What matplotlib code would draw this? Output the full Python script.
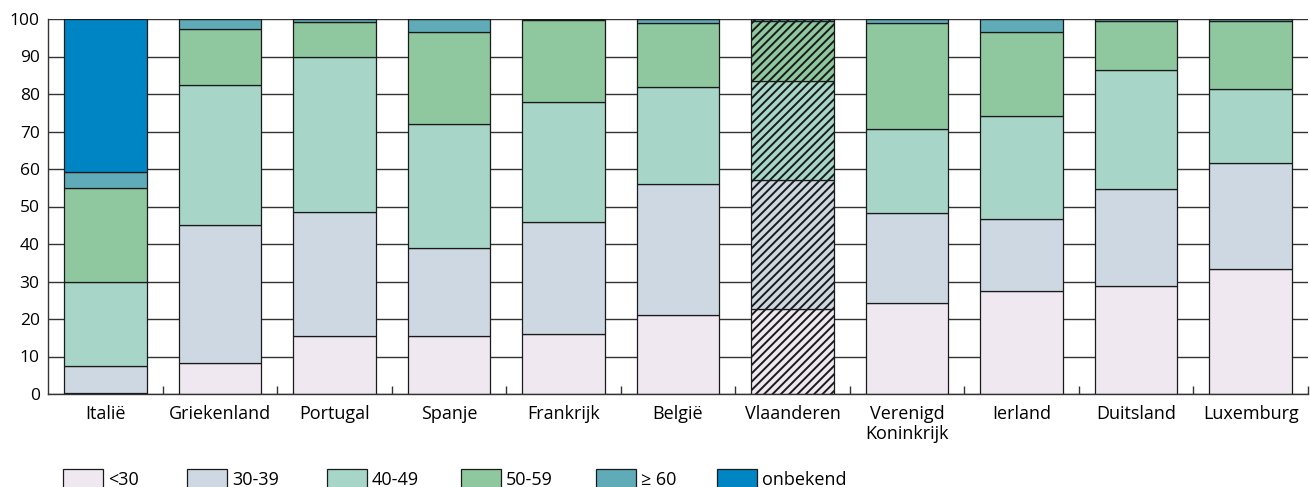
import numpy as np
import matplotlib.pyplot as plt
from matplotlib.patches import Rectangle

# Categories and stacked shares (percent)
landen = ['Italië', 'Griekenland', 'Portugal', 'Spanje', 'Frankrijk', 'België',
          'Vlaanderen', 'Verenigd\nKoninkrijk', 'Ierland', 'Duitsland', 'Luxemburg']
klassen = ['<30', '30-39', '40-49', '50-59', '≥ 60', 'onbekend']

onder30 = [0.3, 8.2, 15.5, 15.5, 16.0, 21.0, 22.8, 24.4, 27.6, 28.9, 33.3]
j30_39 = [7.2, 37.0, 33.0, 23.5, 30.0, 35.0, 34.2, 23.8, 19.0, 25.9, 28.4]
j40_49 = [22.5, 37.3, 41.5, 33.0, 32.0, 26.0, 26.5, 22.5, 27.6, 31.5, 19.6]
j50_59 = [25.0, 14.9, 9.3, 24.5, 21.7, 17.0, 16.1, 28.3, 22.4, 13.1, 18.3]
boven60 = [4.3, 2.6, 0.7, 3.5, 0.3, 1.0, 0.4, 1.0, 3.4, 0.6, 0.4]
onbekend = [40.7, 0, 0, 0, 0, 0, 0, 0, 0, 0, 0]

kleuren = ['#efe8f1', '#cdd8e2', '#a7d6c8', '#8fc79f', '#5fabb8', '#0085c4']

plt.rcParams['font.family'] = ['Open Sans', 'DejaVu Sans']
plt.rcParams['hatch.linewidth'] = 1.4

W, H = 1310, 487
fig = plt.figure(figsize=(W / 100, H / 100), dpi=100)
ax = fig.add_axes([48 / W, 1 - 394 / H, 1260 / W, 375 / H])

x = np.arange(len(landen))
reeksen = [onder30, j30_39, j40_49, j50_59, boven60, onbekend]
bottom = np.zeros(len(landen))
for waarden, kleur in zip(reeksen, kleuren):
    waarden = np.array(waarden)
    bars = ax.bar(x, waarden, 0.72, bottom=bottom, color=kleur,
                  edgecolor='#1a1a1a', linewidth=0.9, zorder=2)
    bars[6].set_hatch('////')
    bottom += waarden

ax.set_xlim(-0.5, len(landen) - 0.5)
ax.set_ylim(0, 100)
ax.set_yticks(range(0, 101, 10))
ax.grid(axis='y', color='#333333', linewidth=1.0, zorder=0)
ax.set_axisbelow(True)

ax.set_xticks(x)
ax.set_xticklabels(landen, fontsize=13, linespacing=1.1)
ax.set_xticks(np.arange(0.5, len(landen), 1), minor=True)
ax.tick_params(axis='x', which='major', length=0, pad=8)
ax.tick_params(axis='x', which='minor', direction='in', length=6, width=1, color='#333333')
ax.tick_params(axis='y', length=0, labelsize=12.5, pad=6)

for s in ['top', 'right']:
    ax.spines[s].set_visible(False)
for s in ['left', 'bottom']:
    ax.spines[s].set_color('#333333')
    ax.spines[s].set_linewidth(1.0)

# legend along the bottom edge, drawn by hand to keep the spacing of the original
leg_x = [63, 187, 327, 461, 596, 717]
for px, kleur, naam in zip(leg_x, kleuren, klassen):
    fig.add_artist(Rectangle((px / W, 1 - 489 / H), 40 / W, 20 / H,
                             transform=fig.transFigure, facecolor=kleur,
                             edgecolor='#1a1a1a', linewidth=0.9))
    fig.text((px + 45) / W, 1 - 485 / H, naam, fontsize=13, va='baseline', ha='left')

fig.savefig('out.png', dpi=100)
